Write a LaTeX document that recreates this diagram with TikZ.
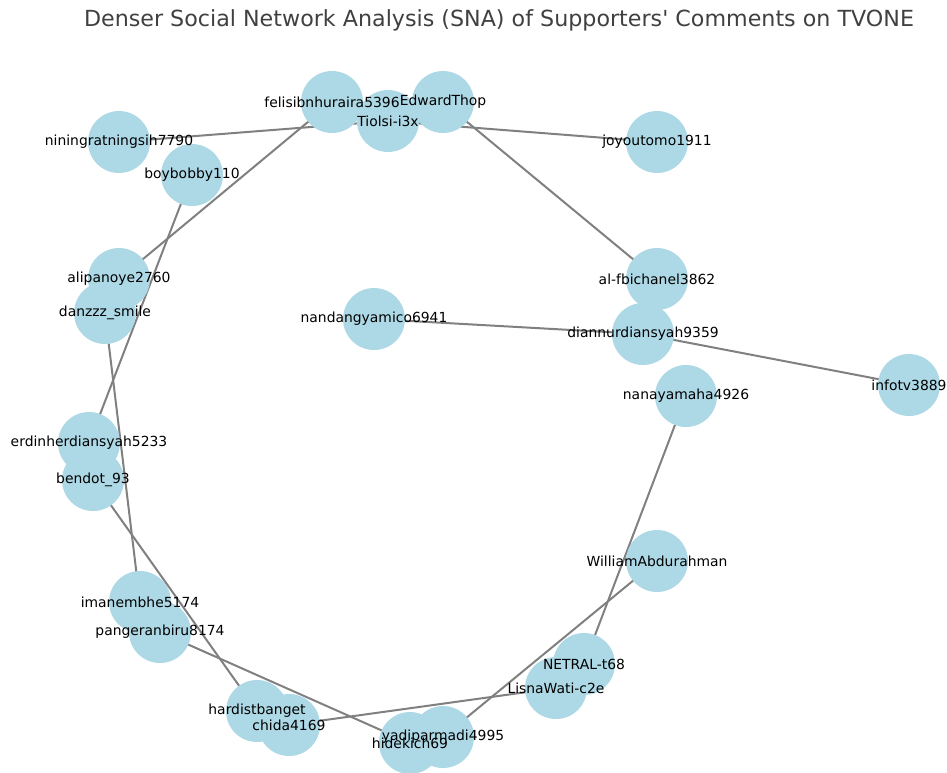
\documentclass[tikz,border=0pt]{standalone}
\usepackage{fontspec}
\setmainfont{DejaVu Sans}
\newfontfamily\titlefont{DejaVu Sans}[Ligatures=TeXOff]
\pgfdeclarelayer{background}
\pgfsetlayers{background,main}
\definecolor{nodeblue}{HTML}{ADD8E6}
\definecolor{edgegray}{HTML}{808080}
\definecolor{titlegray}{HTML}{404040}
\tikzset{
  user/.style={circle, fill=nodeblue, draw=none, minimum size=62pt, inner sep=0pt},
  lbl/.style={inner sep=0pt, text=black, font=\fontsize{13.9}{16}\selectfont},
  link/.style={draw=edgegray, line width=2pt},
  ttl/.style={inner sep=0pt, text=titlegray, font=\titlefont\fontsize{22.2}{26}\selectfont}
}
\begin{document}
\begin{tikzpicture}[x=1pt,y=-1pt]
\useasboundingbox (0,0) rectangle (947,772);
\node[ttl] (title) at (499,20) {Denser Social Network Analysis (SNA) of Supporters' Comments on TVONE};
% circles
\node[user] (felis) at (332,102) {};
\node[user] (edward) at (443,102) {};
\node[user] (tiolsi) at (388,121) {};
\node[user] (nining) at (119,142) {};
\node[user] (joyo) at (657,142) {};
\node[user] (boy) at (192,175) {};
\node[user] (ali) at (119,279) {};
\node[user] (alfb) at (657,279) {};
\node[user] (danz) at (105,313) {};
\node[user] (nand) at (374,319) {};
\node[user] (dian) at (643,334) {};
\node[user] (infotv) at (909,385) {};
\node[user] (nana) at (686,396) {};
\node[user] (erdin) at (89,443) {};
\node[user] (bendot) at (93,480) {};
\node[user] (william) at (657,561) {};
\node[user] (iman) at (140,602) {};
\node[user] (pang) at (160,632) {};
\node[user] (netral) at (584,664) {};
\node[user] (lisna) at (556,688) {};
\node[user] (hardist) at (257,711) {};
\node[user] (chida) at (289,725) {};
\node[user] (yadi) at (443,737) {};
\node[user] (hide) at (410,743) {};
% edges
\begin{pgfonlayer}{background}
\draw[link] (tiolsi.center) -- (nining.center);
\draw[link] (tiolsi.center) -- (joyo.center);
\draw[link] (felis.center) -- (ali.center);
\draw[link] (edward.center) -- (alfb.center);
\draw[link] (boy.center) -- (erdin.center);
\draw[link] (danz.center) -- (iman.center);
\draw[link] (bendot.center) -- (hardist.center);
\draw[link] (pang.center) -- (hide.center);
\draw[link] (chida.center) -- (lisna.center);
\draw[link] (yadi.center) -- (william.center);
\draw[link] (netral.center) -- (nana.center);
\draw[link] (nand.center) -- (dian.center);
\draw[link] (dian.center) -- (infotv.center);
\end{pgfonlayer}
% labels
\node[lbl] at (felis) {felisibnhuraira5396};
\node[lbl] at (edward) {EdwardThop};
\node[lbl] at (tiolsi) {Tiolsi-i3x};
\node[lbl] at (nining) {niningratningsih7790};
\node[lbl] at (joyo) {joyoutomo1911};
\node[lbl] at (boy) {boybobby110};
\node[lbl] at (ali) {alipanoye2760};
\node[lbl] at (alfb) {al-fbichanel3862};
\node[lbl] at (danz) {danzzz\_smile};
\node[lbl] at (nand) {nandangyamico6941};
\node[lbl] at (dian) {diannurdiansyah9359};
\node[lbl] at (infotv) {infotv3889};
\node[lbl] at (nana) {nanayamaha4926};
\node[lbl] at (erdin) {erdinherdiansyah5233};
\node[lbl] at (bendot) {bendot\_93};
\node[lbl] at (william) {WilliamAbdurahman};
\node[lbl] at (iman) {imanembhe5174};
\node[lbl] at (pang) {pangeranbiru8174};
\node[lbl] at (netral) {NETRAL-t68};
\node[lbl] at (lisna) {LisnaWati-c2e};
\node[lbl] at (hardist) {hardistbanget};
\node[lbl] at (chida) {chida4169};
\node[lbl] at (yadi) {yadiparmadi4995};
\node[lbl] at (hide) {hidekich69};
\end{tikzpicture}
\end{document}
